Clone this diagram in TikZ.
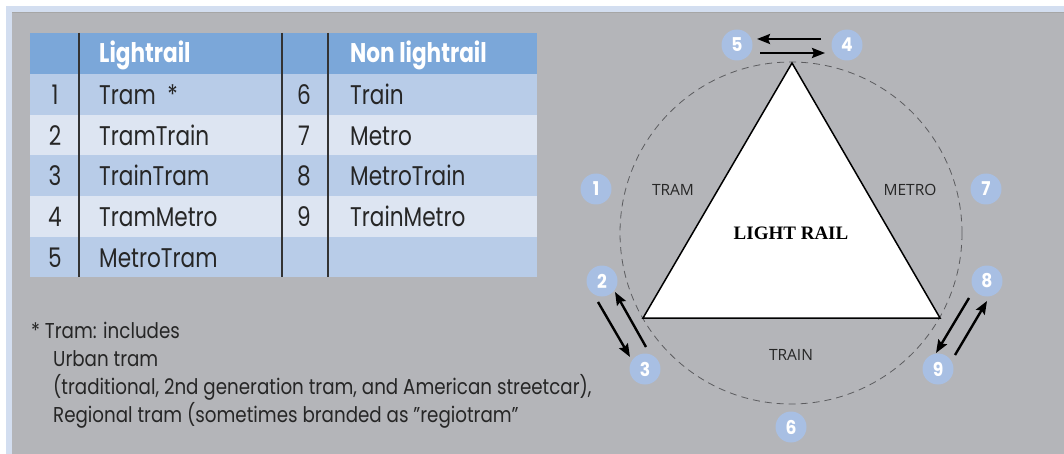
\documentclass[tikz,border=0pt]{standalone}
\usepackage{fontspec}
\setmainfont{Poppins}[FakeStretch=0.8]
\newfontfamily\numfont{Poppins}[FakeStretch=0.9]
\newfontfamily\notefont{Poppins}[FakeStretch=0.85]
\newfontfamily\labfont{Open Sans}
\newfontfamily\serfont{Liberation Serif}
\usetikzlibrary{arrows.meta}
\definecolor{bgray}{HTML}{B4B5B9}
\definecolor{frameblue}{HTML}{D3DEF0}
\definecolor{headblue}{HTML}{7BA7D9}
\definecolor{rowA}{HTML}{B8CCE8}
\definecolor{rowB}{HTML}{DDE5F2}
\definecolor{numblue}{HTML}{A8BFE3}
\definecolor{dashgray}{HTML}{5C5C5F}
\tikzset{
  cell/.style={anchor=base west, inner sep=0pt, font=\fontsize{27}{30}\selectfont, text=black!85},
  cellnum/.style={anchor=base, inner sep=0pt, font=\fontsize{27}{30}\selectfont, text=black!85},
  headcell/.style={anchor=base west, inner sep=0pt, font=\fontsize{27}{30}\selectfont\bfseries, text=white},
  note/.style={anchor=base west, inner sep=0pt, font=\notefont\fontsize{21.5}{24}\selectfont, text=black!85},
  num/.style={circle, fill=numblue, minimum size=31pt, inner sep=0pt, text=white, font=\numfont\fontsize{19}{20}\selectfont\bfseries},
  side/.style={inner sep=0pt, font=\labfont\fontsize{15.5}{18}\selectfont, text=black!85},
  arr/.style={line width=2.4pt, -{Stealth[length=13pt,width=10pt,inset=2pt]}},
  sep/.style={line width=1.1pt, black!80}
}
\begin{document}
\begin{tikzpicture}[x=1pt,y=-1pt]
\useasboundingbox (0,0) rectangle (1064,454);
% background frame
\fill[white] (0,0) rectangle (1064,454);
\fill[frameblue] (6,6) rectangle (1064,454);
\fill[bgray] (12,12) rectangle (1064,454);
\draw[line width=0.8pt, black!35] (12,12) -- (1064,12);
% table
\fill[headblue] (30,33) rectangle (537,74);
\fill[rowA] (30,74) rectangle (537,115);
\fill[rowB] (30,115) rectangle (537,155);
\fill[rowA] (30,155) rectangle (537,196);
\fill[rowB] (30,196) rectangle (537,237);
\fill[rowA] (30,237) rectangle (537,277);
\draw[sep] (79,33) -- (79,277);
\draw[sep] (282,33) -- (282,277);
\draw[sep] (328,33) -- (328,277);
\node[headcell] (hL) at (99,63) {Lightrail};
\node[headcell] (hN) at (350,63) {Non lightrail};
\node[cellnum] (r1a) at (55,105) {1};
\node[cell] (r1b) at (99,105) {Tram\ \ *};
\node[cellnum] (r1c) at (304,105) {6};
\node[cell] (r1d) at (350,105) {Train};
\node[cellnum] (r2a) at (55,145.5) {2};
\node[cell] (r2b) at (99,145.5) {TramTrain};
\node[cellnum] (r2c) at (304,145.5) {7};
\node[cell] (r2d) at (350,145.5) {Metro};
\node[cellnum] (r3a) at (55,186) {3};
\node[cell] (r3b) at (99,186) {TrainTram};
\node[cellnum] (r3c) at (304,186) {8};
\node[cell] (r3d) at (350,186) {MetroTrain};
\node[cellnum] (r4a) at (55,226.5) {4};
\node[cell] (r4b) at (99,226.5) {TramMetro};
\node[cellnum] (r4c) at (304,226.5) {9};
\node[cell] (r4d) at (350,226.5) {TrainMetro};
\node[cellnum] (r5a) at (55,267) {5};
\node[cell] (r5b) at (99,267) {MetroTram};
% footnote
\node[note] (f1) at (31,338) {*\ Tram: includes};
\node[note] (f2) at (53,366) {Urban tram};
\node[note] (f3) at (53,394) {(traditional, 2nd generation tram, and American streetcar),};
\node[note] (f4) at (53,422) {Regional tram (sometimes branded as ”regiotram”};
% diagram
\coordinate (c) at (791,233);
\draw[dashgray, line width=0.8pt, dash pattern=on 7pt off 5pt] (c) circle[radius=171];
\coordinate (tA) at (792,63);
\coordinate (tL) at (643,318);
\coordinate (tR) at (940,318);
\draw[fill=white, line width=1.5pt, line join=miter] (tA) -- (tL) -- (tR) -- cycle;
\node[inner sep=0pt, font=\serfont\fontsize{19}{20}\selectfont\bfseries] (lr) at (791,233) {LIGHT RAIL};
\node[side] (tram) at (673,190) {TRAM};
\node[side] (metro) at (910,190) {METRO};
\node[side] (train) at (791,355) {TRAIN};
% numbered nodes
\node[num] (n5) at (737,45) {5};
\node[num] (n4) at (847,45) {4};
\node[num] (n1) at (596,189) {1};
\node[num] (n7) at (986,189) {7};
\node[num] (n2) at (602,281) {2};
\node[num] (n3) at (645,369) {3};
\node[num] (n8) at (987,281) {8};
\node[num] (n9) at (938,369) {9};
\node[num] (n6) at (791,427) {6};
% arrow end points
\coordinate (a45s) at (821,39);
\coordinate (a45e) at (757,39);
\coordinate (a54s) at (760,53);
\coordinate (a54e) at (825,53);
\coordinate (a23s) at (598,302);
\coordinate (a23e) at (630,357);
\coordinate (a32s) at (646,347);
\coordinate (a32e) at (615,292);
\coordinate (a89s) at (969,298);
\coordinate (a89e) at (936,353);
\coordinate (a98s) at (955,355);
\coordinate (a98e) at (987,301);
\draw[arr] (a45s) -- (a45e);
\draw[arr] (a54s) -- (a54e);
\draw[arr] (a23s) -- (a23e);
\draw[arr] (a32s) -- (a32e);
\draw[arr] (a89s) -- (a89e);
\draw[arr] (a98s) -- (a98e);
\end{tikzpicture}
\end{document}
